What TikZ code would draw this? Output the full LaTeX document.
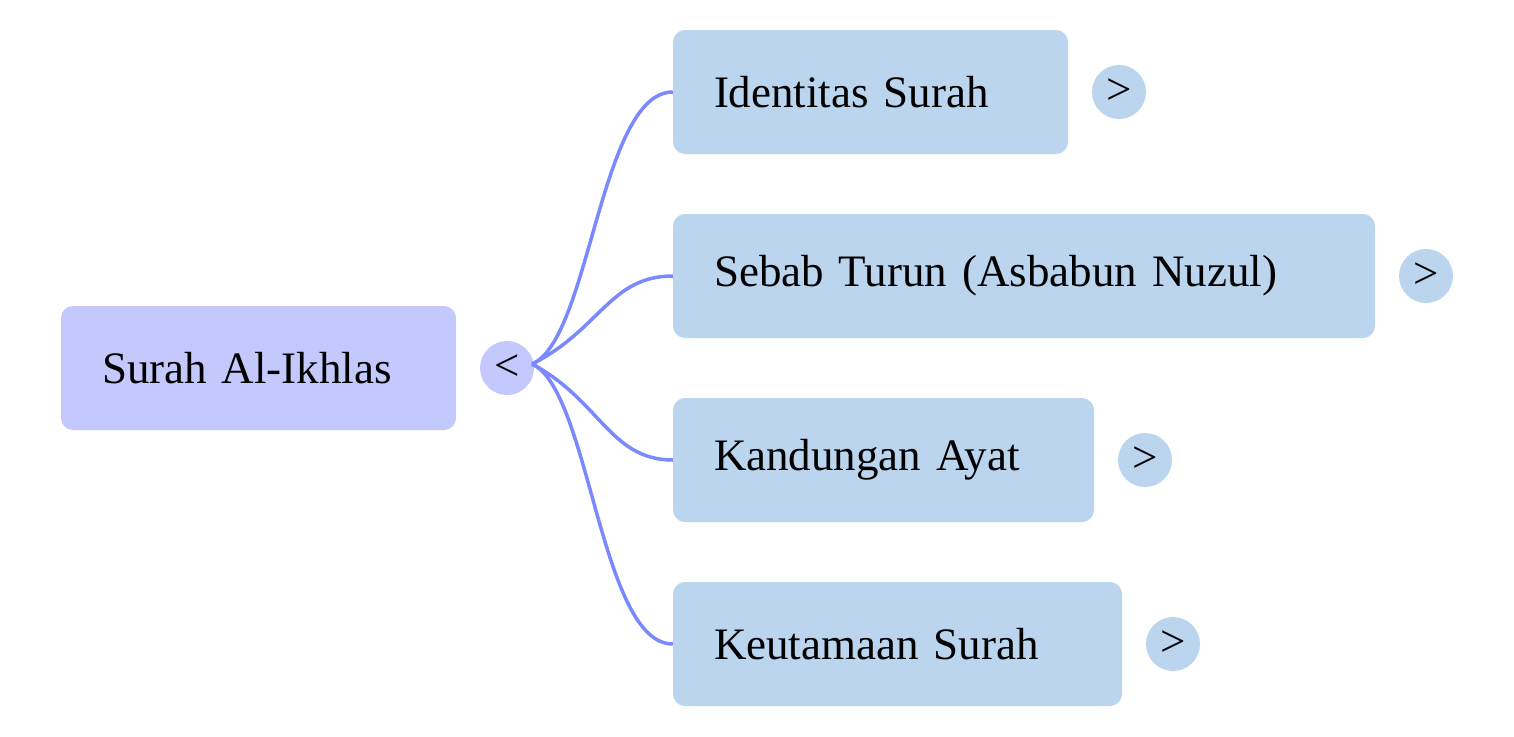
\documentclass[tikz,border=0pt]{standalone}
\usepackage{fontspec}
\setmainfont{Liberation Serif}
\definecolor{rootc}{HTML}{C3C9FC}
\definecolor{childc}{HTML}{BBD5EF}
\definecolor{linec}{HTML}{7B89FF}
\begin{document}
\begin{tikzpicture}[x=1pt,y=-1pt,
  box/.style={rounded corners=12pt,inner sep=0pt,minimum height=124pt,align=left,font=\fontsize{45}{48}\selectfont},
  btn/.style={circle,inner sep=0pt,minimum size=54pt,font=\fontsize{45}{48}\selectfont},
  conn/.style={linec,line width=3.5pt}]
\useasboundingbox (0,0) rectangle (1514,736);
\node[box,fill=rootc,minimum width=395pt,text width=313pt] (root) at (258.5,368) {Surah Al-Ikhlas};
\node[btn,fill=rootc] (rb) at (507,368) {<};
\node[box,fill=childc,minimum width=395pt,text width=313pt] (c1) at (870.5,92) {Identitas Surah};
\node[btn,fill=childc] (b1) at (1119,92) {>};
\node[box,fill=childc,minimum width=702pt,text width=620pt] (c2) at (1024,276) {Sebab Turun (Asbabun Nuzul)};
\node[btn,fill=childc] (b2) at (1426,276) {>};
\node[box,fill=childc,minimum width=421pt,text width=339pt] (c3) at (883.5,460) {Kandungan Ayat};
\node[btn,fill=childc] (b3) at (1145,460) {>};
\node[box,fill=childc,minimum width=449pt,text width=367pt] (c4) at (897.5,644) {Keutamaan Surah};
\node[btn,fill=childc] (b4) at (1173,644) {>};
\coordinate (s) at (532,364);
\draw[conn] (s) .. controls (590,340) and (600,92) .. (c1.west);
\draw[conn] (s) .. controls (600,330) and (610,276) .. (c2.west);
\draw[conn] (s) .. controls (600,400) and (610,460) .. (c3.west);
\draw[conn] (s) .. controls (590,390) and (600,644) .. (c4.west);
\end{tikzpicture}
\end{document}
